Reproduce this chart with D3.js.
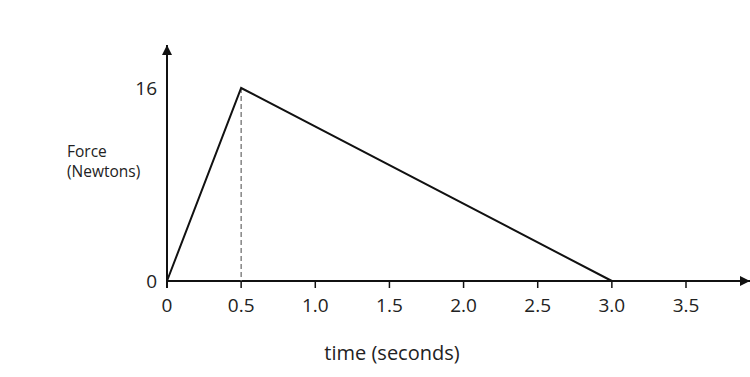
<!DOCTYPE html>
<html>
<head>
<meta charset="utf-8">
<script src="https://cdn.jsdelivr.net/npm/d3@7"></script>
<style>
  body { margin: 0; background: #fff; }
  text { font-family: "Open Sans", sans-serif; fill: #222; }
</style>
</head>
<body>
<svg width="750" height="377"></svg>
<script>
var svg = d3.select("svg");

// data
var times = [0, 0.5, 3.0];
var forces = [0, 16, 0];
var xTicks = [0, 0.5, 1.0, 1.5, 2.0, 2.5, 3.0, 3.5];
var yTicks = [0, 16];

var x = d3.scaleLinear().domain([0, 3.5]).range([167, 686]);
var y = d3.scaleLinear().domain([0, 16]).range([281, 88]);

var points = times.map(function(t, i) { return [t, forces[i]]; });

// arrow marker
svg.append("defs").append("marker")
    .attr("id", "arrow")
    .attr("viewBox", "0 0 10 10")
    .attr("refX", 10).attr("refY", 5)
    .attr("markerWidth", 10).attr("markerHeight", 10)
    .attr("markerUnits", "userSpaceOnUse")
    .attr("orient", "auto")
  .append("path")
    .attr("d", "M0,0 L10,5 L0,10 z")
    .style("fill", "#111");

// x axis line
svg.append("line")
    .attr("x1", x(0)).attr("x2", 750)
    .attr("y1", y(0)).attr("y2", y(0))
    .style("stroke", "#111").style("stroke-width", "2px")
    .attr("marker-end", "url(#arrow)");

// y axis line
svg.append("line")
    .attr("x1", x(0)).attr("x2", x(0))
    .attr("y1", y(0) + 7).attr("y2", 45)
    .style("stroke", "#111").style("stroke-width", "2px")
    .attr("marker-end", "url(#arrow)");

// x ticks
svg.selectAll(".xtick")
    .data(xTicks.filter(function(d) { return d > 0; }))
    .enter().append("line")
    .attr("class", "xtick")
    .attr("x1", function(d) { return x(d); })
    .attr("x2", function(d) { return x(d); })
    .attr("y1", y(0)).attr("y2", y(0) + 7)
    .style("stroke", "#111").style("stroke-width", "1.5px");

svg.selectAll(".xlabel")
    .data(xTicks)
    .enter().append("text")
    .attr("class", "xlabel")
    .attr("x", function(d) { return x(d); })
    .attr("y", y(0) + 31)
    .attr("text-anchor", "middle")
    .style("font-size", "19px")
    .text(function(d) { return d === 0 ? "0" : d.toFixed(1); });

svg.selectAll(".ylabel")
    .data(yTicks)
    .enter().append("text")
    .attr("class", "ylabel")
    .attr("x", x(0) - 10)
    .attr("y", function(d) { return y(d) + 7; })
    .attr("text-anchor", "end")
    .style("font-size", "19px")
    .text(function(d) { return d; });

// dashed drop line at the peak
svg.append("line")
    .attr("x1", x(0.5)).attr("x2", x(0.5))
    .attr("y1", y(16)).attr("y2", y(0))
    .style("stroke", "#666").style("stroke-width", "1.2px")
    .style("stroke-dasharray", "5,3");

// force curve
svg.append("path")
    .datum(points)
    .attr("d", d3.line().x(function(d) { return x(d[0]); }).y(function(d) { return y(d[1]); }))
    .style("fill", "none").style("stroke", "#111").style("stroke-width", "2px");

// axis titles
svg.append("text")
    .attr("x", 67).attr("y", 157)
    .style("font-size", "15.5px")
    .text("Force");
svg.append("text")
    .attr("x", 67).attr("y", 177)
    .style("font-size", "15.5px")
    .text("(Newtons)");

svg.append("text")
    .attr("x", 392).attr("y", 360)
    .attr("text-anchor", "middle")
    .style("font-size", "20px")
    .text("time (seconds)");
</script>
</body>
</html>
